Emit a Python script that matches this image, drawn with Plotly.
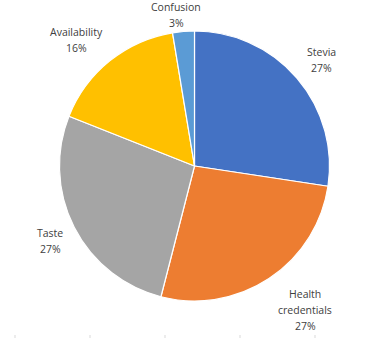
import plotly.graph_objects as go

labels = ["Stevia", "Health credentials", "Taste", "Availability", "Confusion"]
values = [27.4, 26.6, 27.0, 16.4, 2.6]
colors = ["#4472C4", "#ED7D31", "#A5A5A5", "#FFC000", "#5B9BD5"]
label_lines = [["Stevia"], ["Health", "credentials"], ["Taste"], ["Availability"], ["Confusion"]]
# label centre (x, y of first line) in pixels (layout)
label_pos = [(321, 52), (305, 294), (50, 233), (76, 32), (176, 7)]
LINE = 16

W, H = 389, 338
cx, cy, R = 194.5, 166, 135

fig = go.Figure(go.Pie(
    labels=labels, values=values, sort=False, direction="clockwise", rotation=0,
    marker=dict(colors=colors, line=dict(color="white", width=1.2)),
    textinfo="none", hoverinfo="label+percent", showlegend=False,
    domain=dict(x=[(cx - R) / W, (cx + R) / W], y=[(H - cy - R) / H, (H - cy + R) / H]),
))

total = sum(values)
for lines, v, (px, py) in zip(label_lines, values, label_pos):
    all_lines = lines + [f"{round(100 * v / total)}%"]
    for i, t in enumerate(all_lines):
        fig.add_annotation(
            x=px / W, y=1 - (py + i * LINE) / H, xref="paper", yref="paper",
            text=t, showarrow=False,
            font=dict(family="Open Sans", size=10.5, color="#404040"),
            align="center", xanchor="center", yanchor="middle",
        )

for x in [15, 90, 165, 240, 315]:
    fig.add_shape(type="line", xref="paper", yref="paper",
                  x0=x / W, x1=x / W, y0=0, y1=3 / H,
                  line=dict(color="#D9D9D9", width=1))

fig.update_layout(width=W, height=H, margin=dict(l=0, r=0, t=0, b=0),
                  paper_bgcolor="white", plot_bgcolor="white")
fig.write_html("out.html")
